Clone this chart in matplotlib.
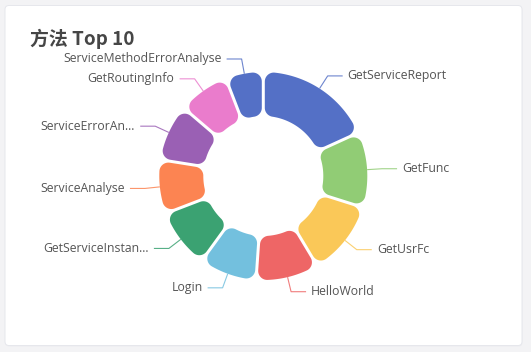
import numpy as np
import matplotlib
matplotlib.use("Agg")
import matplotlib.pyplot as plt
from matplotlib.path import Path
from matplotlib.patches import PathPatch, FancyBboxPatch

# ---------------- data ----------------
title = "方法 Top 10"
categories = ["GetServiceReport", "GetFunc", "GetUsrFc", "HelloWorld", "Login",
              "GetServiceInstan...", "ServiceAnalyse", "ServiceErrorAn...",
              "GetRoutingInfo", "ServiceMethodErrorAnalyse"]
values = [131, 84, 83, 70, 64, 66, 60, 63, 57, 42]
colors = ["#5470c6", "#91cc75", "#fac858", "#ee6666", "#73c0de",
          "#3ba272", "#fc8452", "#9a60b4", "#ea7ccc", "#5470c6"]

# ---------------- layout ----------------
W, H = 531, 352
CX, CY = 263.3, 176.0
R_OUT, R_IN = 104.0, 60.0
GAP = 3.0
CORNER = 9.0
LEN1, LEN2, TXT_GAP = 15.0, 15.0, 5.0

fig = plt.figure(figsize=(W / 100, H / 100), dpi=100)
fig.patch.set_facecolor("#f3f3f5")
ax = fig.add_axes([0, 0, 1, 1])
ax.set_xlim(0, W)
ax.set_ylim(H, 0)
ax.axis("off")

# card
ax.add_patch(FancyBboxPatch((5.5, 6.5), 517, 340, boxstyle="round,pad=0,rounding_size=4",
                            facecolor="#ecedf1", edgecolor="none", zorder=0))
ax.add_patch(FancyBboxPatch((5, 5.5), 517, 340, boxstyle="round,pad=0,rounding_size=4",
                            facecolor="white", edgecolor="#e6e7ec", lw=0.7, zorder=1))


def arc(cx, cy, rad, a0, a1, n=40):
    a = np.linspace(a0, a1, n)
    return np.column_stack([cx + rad * np.cos(a), cy + rad * np.sin(a)])


def rounded_sector(t1, t2, r, R, gap, c):
    h = gap / 2
    s = np.sin((t2 - t1) / 2)
    co = min(c, (R * s - h) / (1 + s), (R - r) / 2)
    ci = min(c, (r * s - h) / (1 - s), (R - r) / 2)
    co = max(co, 0.5)
    ci = max(ci, 0.5)
    n1 = np.array([-np.sin(t1), np.cos(t1)])
    n2 = np.array([np.sin(t2), -np.cos(t2)])
    ro, ri = R - co, r + ci
    po1 = t1 + np.arcsin((h + co) / ro)
    po2 = t2 - np.arcsin((h + co) / ro)
    pi1 = t1 + np.arcsin((h + ci) / ri)
    pi2 = t2 - np.arcsin((h + ci) / ri)
    Co1 = ro * np.array([np.cos(po1), np.sin(po1)])
    Co2 = ro * np.array([np.cos(po2), np.sin(po2)])
    Ci1 = ri * np.array([np.cos(pi1), np.sin(pi1)])
    Ci2 = ri * np.array([np.cos(pi2), np.sin(pi2)])
    parts = [
        (Ci1 - ci * n1)[None, :],
        arc(Co1[0], Co1[1], co, t1 - np.pi / 2, po1),
        arc(0, 0, R, po1, po2, 120),
        arc(Co2[0], Co2[1], co, po2, t2 + np.pi / 2),
        arc(Ci2[0], Ci2[1], ci, t2 + np.pi / 2, pi2 + np.pi),
        arc(0, 0, r, pi2, pi1, 80),
        arc(Ci1[0], Ci1[1], ci, pi1 + np.pi, t1 + 1.5 * np.pi),
    ]
    pts = np.vstack(parts)
    return pts


vals = np.array(values, dtype=float)
angles = vals / vals.sum() * 2 * np.pi
cum = np.concatenate([[0], np.cumsum(angles)])
start = np.pi / 2

label_font = dict(family=["Open Sans", "DejaVu Sans"], fontsize=8.8, color="#555555")

for i, (name, col) in enumerate(zip(categories, colors)):
    t2 = start - cum[i]
    t1 = start - cum[i + 1]
    pts = rounded_sector(t1, t2, R_IN, R_OUT, GAP, CORNER)
    X = CX + pts[:, 0]
    Y = CY - pts[:, 1]
    verts = np.column_stack([X, Y])
    verts = np.vstack([verts, verts[:1]])
    codes = [Path.MOVETO] + [Path.LINETO] * (len(verts) - 2) + [Path.CLOSEPOLY]
    ax.add_patch(PathPatch(Path(verts, codes), facecolor=col, edgecolor="none", zorder=3))

    mid = (t1 + t2) / 2
    ux, uy = np.cos(mid), np.sin(mid)
    p0 = (CX + R_OUT * ux, CY - R_OUT * uy)
    p1 = (CX + (R_OUT + LEN1) * ux, CY - (R_OUT + LEN1) * uy)
    side = 1 if ux >= 0 else -1
    p2 = (p1[0] + side * LEN2, p1[1])
    ax.plot([p0[0], p1[0], p2[0]], [p0[1], p1[1], p2[1]], color=col, lw=0.8,
            alpha=0.85, solid_capstyle="butt", zorder=2)
    ax.text(p2[0] + side * TXT_GAP, p2[1], name, ha="left" if side > 0 else "right",
            va="center", zorder=4, **label_font)

ax.text(30, 38.5, title, fontsize=13.6, fontweight="bold", color="#464646",
        family=["Noto Sans CJK SC", "DejaVu Sans"], ha="left", va="center", zorder=4)

fig.savefig("out.png", dpi=100, facecolor=fig.get_facecolor())
